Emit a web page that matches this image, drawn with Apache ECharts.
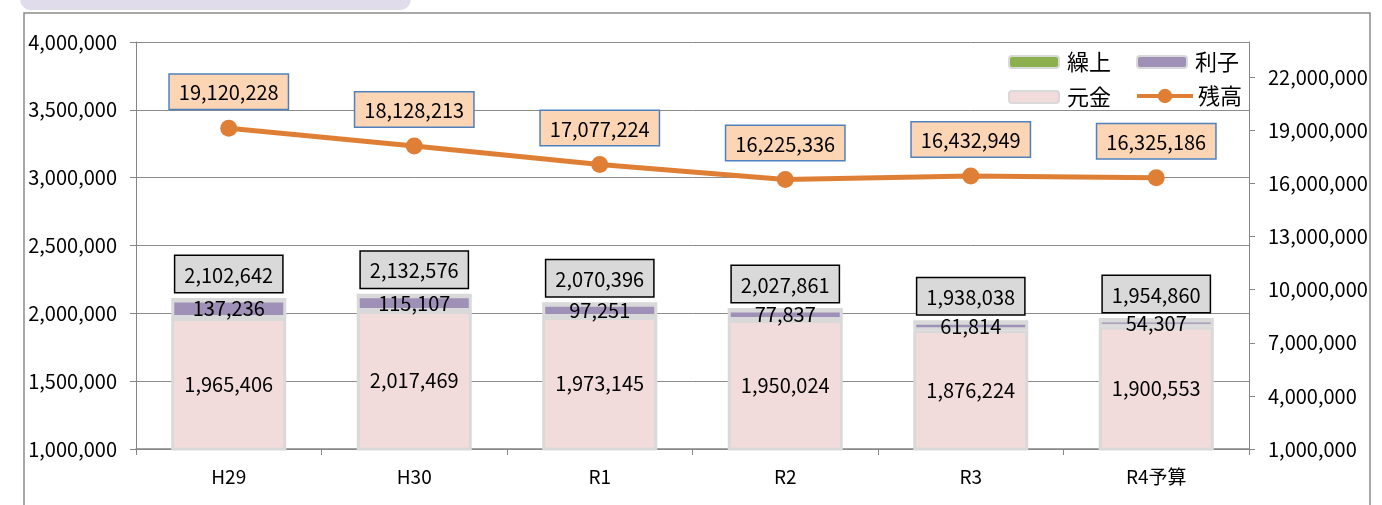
<!DOCTYPE html>
<html>
<head>
<meta charset="utf-8">
<script src="https://cdn.jsdelivr.net/npm/echarts@6/dist/echarts.min.js"></script>
<style>
html,body{margin:0;padding:0;background:#fff;}
#chart{width:1382px;height:505px;}
</style>
</head>
<body>
<div id="chart"></div>
<script>
const categories = ['H29', 'H30', 'R1', 'R2', 'R3', 'R4予算'];
const gankin = [1965406, 2017469, 1973145, 1950024, 1876224, 1900553];
const rishi = [137236, 115107, 97251, 77837, 61814, 54307];
const kuriage = [0, 0, 0, 0, 0, 0];
const totals = [2102642, 2132576, 2070396, 2027861, 1938038, 1954860];
const zandaka = [19120228, 18128213, 17077224, 16225336, 16432949, 16325186];
const rightTicks = [1000000, 4000000, 7000000, 10000000, 13000000, 16000000, 19000000, 22000000];

const FONT = "'Noto Sans CJK JP', 'Noto Sans', sans-serif";
const fmt = v => Number(v).toLocaleString('en-US');
const AXIS = '#868686';
const BORDER = '#D9D9D9';

const chart = echarts.init(document.getElementById('chart'));
const legendText = {fontSize: 22, fontFamily: FONT, color: '#000', padding: [0, 0, 0, 3]};
const option = {
  animation: false,
  textStyle: {fontFamily: FONT},
  graphic: [
    {type: 'rect', shape: {x: 20, y: -20, width: 391, height: 30, r: 11}, style: {fill: '#E1DCEB'}, z: 0},
    {type: 'rect', shape: {x: 24, y: 13, width: 1346, height: 600}, style: {fill: 'none', stroke: '#8C8C8C', lineWidth: 1.5}, z: 0}
  ],
  grid: {left: 136, right: 133, top: 42, bottom: 56, containLabel: false},
  legend: [
    {data: ['繰上'], left: 1008, top: 51, padding: 0, itemWidth: 50, itemHeight: 12, textStyle: legendText},
    {data: ['利子'], left: 1136, top: 51, padding: 0, itemWidth: 50, itemHeight: 12, textStyle: legendText},
    {data: ['元金'], left: 1008, top: 86, padding: 0, itemWidth: 50, itemHeight: 12, textStyle: legendText},
    {data: ['残高'], left: 1135, top: 85, padding: 0, itemWidth: 56, itemHeight: 18,
     textStyle: {fontSize: 22, fontFamily: FONT, color: '#000'},
     lineStyle: {width: 4}}
  ],
  xAxis: {
    type: 'category',
    data: categories,
    axisLine: {lineStyle: {color: AXIS, width: 1.5}},
    axisTick: {show: true, length: 6, lineStyle: {color: AXIS}},
    axisLabel: {fontSize: 19, margin: 18, color: '#000', fontFamily: FONT}
  },
  yAxis: [
    {
      type: 'value', min: 1000000, max: 4000000, interval: 500000,
      axisLine: {show: true, lineStyle: {color: AXIS}},
      axisTick: {show: true, length: 6, lineStyle: {color: AXIS}},
      axisLabel: {fontSize: 20, margin: 19, color: '#000', fontFamily: FONT, formatter: fmt},
      splitLine: {lineStyle: {color: '#8C8C8C', width: 1}}
    },
    {
      type: 'value', min: 1000000, max: 24000000, interval: 3000000,
      axisLine: {show: true, lineStyle: {color: AXIS}},
      axisTick: {show: true, length: 6, lineStyle: {color: AXIS}, customValues: rightTicks},
      axisLabel: {fontSize: 20, margin: 19, color: '#000', fontFamily: FONT, formatter: fmt, customValues: rightTicks},
      splitLine: {show: false}
    }
  ],
  series: [
    {
      name: '元金', type: 'bar', stack: 'a', barWidth: 115, data: gankin,
      itemStyle: {color: '#F2DCDB', borderColor: BORDER, borderWidth: 3},
      label: {show: true, position: 'inside', fontSize: 20, color: '#000', fontFamily: FONT, formatter: p => fmt(p.value)}
    },
    {
      name: '利子', type: 'bar', stack: 'a', barWidth: 115, data: rishi,
      itemStyle: {color: '#9E90B7', borderColor: BORDER, borderWidth: 3},
      label: {show: true, position: 'inside', fontSize: 20, color: '#000', fontFamily: FONT, formatter: p => fmt(p.value)}
    },
    {
      name: '繰上', type: 'bar', stack: 'a', barWidth: 115, data: kuriage,
      itemStyle: {color: '#8DB04F', borderColor: BORDER, borderWidth: 3},
      label: {
        show: true, position: 'top', distance: 6, fontSize: 20, lineHeight: 22, color: '#000', fontFamily: FONT,
        backgroundColor: '#D9D9D9', borderColor: '#000', borderWidth: 1.5, padding: [8, 9, 6, 9],
        formatter: p => fmt(totals[p.dataIndex])
      }
    },
    {
      name: '残高', type: 'line', yAxisIndex: 1, data: zandaka, z: 5,
      symbol: 'circle', symbolSize: 17,
      lineStyle: {color: '#DF7F36', width: 5},
      itemStyle: {color: '#DF7F36'},
      label: {
        show: true, position: 'top', distance: 11, fontSize: 20, lineHeight: 22, color: '#000', fontFamily: FONT,
        backgroundColor: '#FCD5B5', borderColor: '#4F81BD', borderWidth: 1.5, padding: [7, 9, 5, 9],
        formatter: p => fmt(p.value)
      }
    }
  ]
};
chart.setOption(option);
</script>
</body>
</html>
